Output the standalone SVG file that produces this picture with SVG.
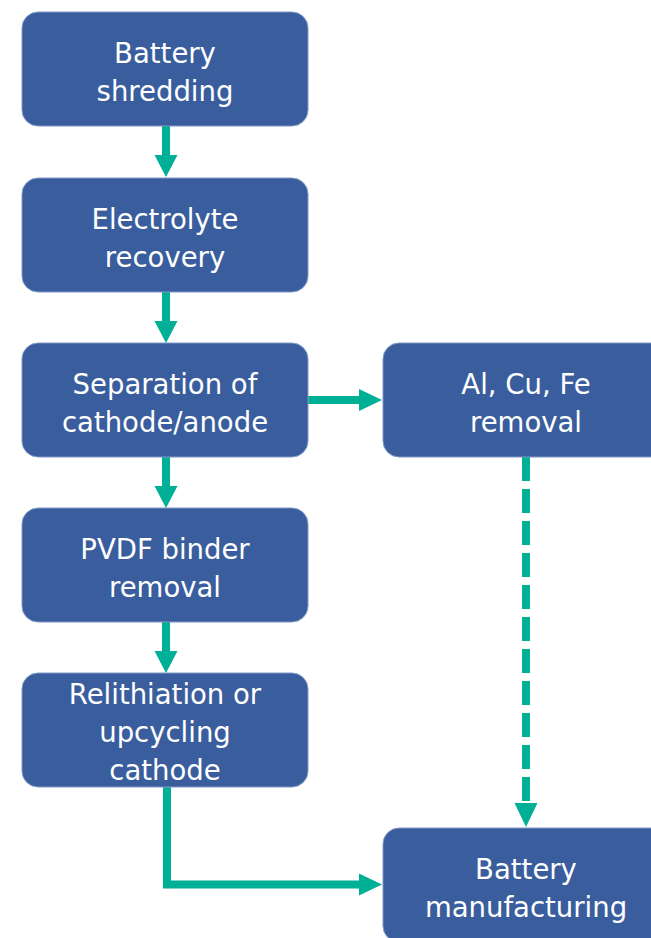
<svg xmlns="http://www.w3.org/2000/svg" width="651" height="938" viewBox="0 0 651 938">
<style>
.box{fill:#3A5E9D;stroke:#7F98C6;stroke-width:1}
.t{font-family:"DejaVu Sans",sans-serif;font-size:27.5px;fill:#ffffff;text-anchor:middle}
.c{stroke:#00B096;stroke-width:8;fill:none}
.d{stroke:#00B096;stroke-width:8;fill:none;stroke-dasharray:24 8}
.h{fill:#00B096}
</style>
<rect width="651" height="938" fill="#ffffff"/>
<g id="connectors">
<line class="c" x1="166" y1="126" x2="166" y2="156"/>
<polygon class="h" points="154.5,155 177.5,155 166,177"/>
<line class="c" x1="166" y1="292" x2="166" y2="322"/>
<polygon class="h" points="154.5,321 177.5,321 166,343"/>
<line class="c" x1="308" y1="400" x2="360" y2="400"/>
<polygon class="h" points="359,389 359,411 382,400"/>
<line class="c" x1="166" y1="457" x2="166" y2="487"/>
<polygon class="h" points="154.5,486 177.5,486 166,508"/>
<line class="c" x1="166" y1="622" x2="166" y2="652"/>
<polygon class="h" points="154.5,651 177.5,651 166,673"/>
<polyline class="c" points="167,787 167,884.5 360,884.5"/>
<polygon class="h" points="359,873.5 359,895.5 382,884.5"/>
<line class="d" x1="526" y1="457" x2="526" y2="804"/>
<polygon class="h" points="514.5,803 537.5,803 526,827"/>
</g>
<g id="n1"><rect class="box" x="22" y="12" width="286" height="114" rx="16"/><text class="t" x="165" y="63">Battery</text><text class="t" x="165" y="101">shredding</text></g>
<g id="n2"><rect class="box" x="22" y="178" width="286" height="114" rx="16"/><text class="t" x="165" y="229">Electrolyte</text><text class="t" x="165" y="267">recovery</text></g>
<g id="n3"><rect class="box" x="22" y="343" width="286" height="114" rx="16"/><text class="t" x="165" y="394">Separation of</text><text class="t" x="165" y="432">cathode/anode</text></g>
<g id="n4"><rect class="box" x="22" y="508" width="286" height="114" rx="16"/><text class="t" x="165" y="559">PVDF binder</text><text class="t" x="165" y="597">removal</text></g>
<g id="n5"><rect class="box" x="22" y="673" width="286" height="114" rx="16"/><text class="t" x="165" y="704">Relithiation or</text><text class="t" x="165" y="742">upcycling</text><text class="t" x="165" y="780">cathode</text></g>
<g id="n6"><rect class="box" x="383" y="343" width="286" height="114" rx="16"/><text class="t" x="526" y="394">Al, Cu, Fe</text><text class="t" x="526" y="432">removal</text></g>
<g id="n7"><rect class="box" x="383" y="828" width="286" height="114" rx="16"/><text class="t" x="526" y="879">Battery</text><text class="t" x="526" y="917">manufacturing</text></g>
</svg>
